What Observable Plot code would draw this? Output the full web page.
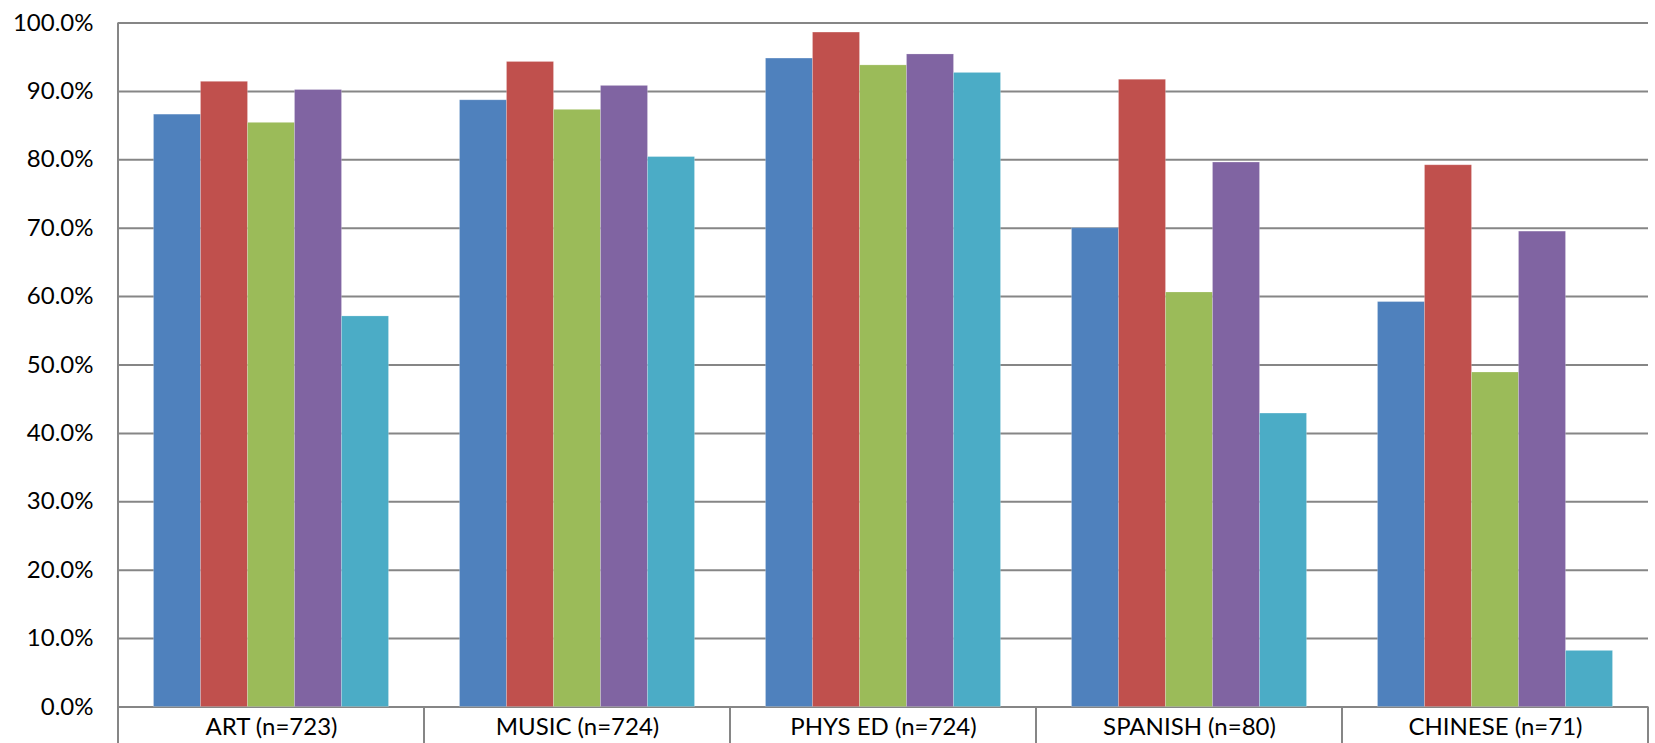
<!DOCTYPE html>
<html>
<head>
<meta charset="utf-8">
<script src="https://cdn.jsdelivr.net/npm/d3@7"></script>
<script src="https://cdn.jsdelivr.net/npm/@observablehq/plot@0.6"></script>
<style>
  html, body { margin: 0; padding: 0; background: #fff; }
  svg { display: block; }
</style>
</head>
<body>
<div id="chart"></div>
<script>
// ---- Data ----
const categories = ["ART (n=723)", "MUSIC (n=724)", "PHYS ED (n=724)", "SPANISH (n=80)", "CHINESE (n=71)"];
const seriesNames = ["Series 1", "Series 2", "Series 3", "Series 4", "Series 5"];
const series1 = [86.6, 88.7, 94.8, 70.0, 59.2];
const series2 = [91.4, 94.3, 98.6, 91.7, 79.2];
const series3 = [85.4, 87.3, 93.8, 60.6, 48.9];
const series4 = [90.2, 90.8, 95.4, 79.6, 69.5];
const series5 = [57.1, 80.4, 92.7, 42.9, 8.2];
const seriesColors = ["#4F81BD", "#C0504D", "#9BBB59", "#8064A2", "#4BACC6"];
const yTicks = [0, 10, 20, 30, 40, 50, 60, 70, 80, 90, 100];

const allSeries = [series1, series2, series3, series4, series5];
const rows = [];
categories.forEach((c, i) => {
  seriesNames.forEach((s, j) => {
    rows.push({category: c, series: s, value: allSeries[j][i]});
  });
});

const gridColor = "#868686";

const plot = Plot.plot({
  width: 1655,
  height: 743,
  marginLeft: 117.5,
  marginRight: 7.5,
  marginTop: 22.5,
  marginBottom: 36.5,
  style: {fontFamily: "Lato, 'Open Sans', sans-serif", fontSize: "24px", color: "#000", background: "#fff", overflow: "visible"},
  fx: {domain: categories, padding: 0, label: null, axis: "bottom", tickSize: 0, tickPadding: 11},
  x: {domain: seriesNames, paddingInner: 0, paddingOuter: 0.75, axis: null},
  y: {domain: [0, 100], ticks: yTicks, tickSize: 0, tickPadding: 25, tickFormat: d => d.toFixed(1) + "%", label: null},
  color: {domain: seriesNames, range: seriesColors},
  marks: [
    Plot.ruleY(yTicks, {stroke: gridColor, strokeWidth: 2}),
    Plot.barY(rows, {fx: "category", x: "series", y: "value", fill: "series", stroke: "#ffffff", strokeOpacity: 0.2, strokeWidth: 1})
  ]
});

document.getElementById("chart").appendChild(plot);

// Category box separators & vertical axis line, positioned via Plot's scales
const fx = plot.scale("fx");
const ys = plot.scale("y");
const y0 = ys.apply(0);
const yTop = ys.apply(100);
const bottom = 743;
const svg = d3.select(plot);
const g = svg.append("g").attr("stroke", gridColor).attr("stroke-width", 2);
const edges = categories.map(c => fx.apply(c));
edges.push(fx.apply(categories[categories.length - 1]) + fx.bandwidth);
edges.forEach((x, i) => {
  g.append("line")
    .attr("x1", x).attr("x2", x)
    .attr("y1", i === 0 ? yTop : y0)
    .attr("y2", bottom);
});
</script>
</body>
</html>
